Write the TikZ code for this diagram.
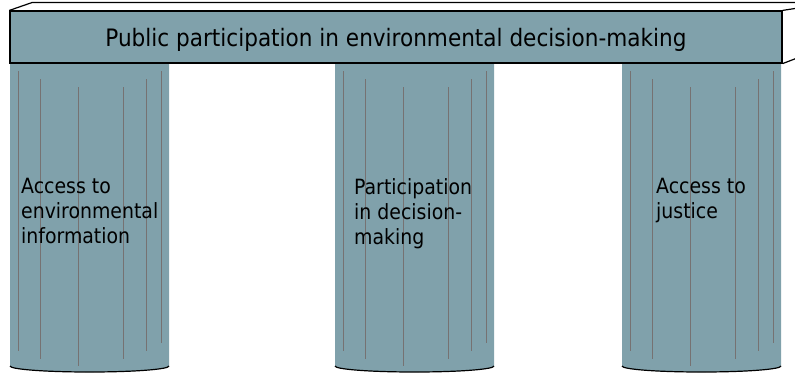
\documentclass[tikz,border=0pt]{standalone}
\usepackage{fontspec}
\setmainfont{DejaVu Sans Condensed}
\usetikzlibrary{positioning}
\definecolor{stone}{RGB}{128,161,171}
\definecolor{groove}{RGB}{118,114,114}

\begin{document}
\begin{tikzpicture}[x=1pt, y=-1pt,
    beam/.style={rectangle, draw, line width=1.2pt, fill=stone, minimum width=772pt, minimum height=52pt, inner sep=0pt, text depth=0pt, font=\fontsize{24}{28}\selectfont},
    pillartext/.style={anchor=north west, align=left, inner sep=0pt, font=\fontsize{21}{25}\selectfont}
]
    \clip (0,0) rectangle (795,373);

    % Three pillars with grooves and a rounded foot
    \foreach \px in {10,335,622} {
        \fill[stone] (\px,63) -- (\px,366) arc[start angle=180, end angle=360, x radius=79.5pt, y radius=6pt] -- (\px+159,63) -- cycle;
        \draw[line width=1.2pt] (\px,366) arc[start angle=180, end angle=360, x radius=79.5pt, y radius=6pt];
        \foreach \dx/\top/\bot in {8/71/351, 30/79/359, 68/87/366, 113/87/359, 136/79/351, 151/71/343}
            \draw[groove, line width=1pt] (\px+\dx,\top) -- (\px+\dx,\bot);
    }

    % Pillar labels
    \node[pillartext] (info) at (21,178) {Access to\\environmental\\information};
    \node[pillartext] (part) at (354,178) {Participation\\in decision-\\making};
    \node[pillartext] (just) at (656,178) {Access to\\justice};

    % Beam resting on the pillars
    \node[beam] (deck) at (396,37) {Public participation in environmental decision-making};
    \draw[line width=1.2pt] (deck.north west) -- ++(23,-8) -- ++(772,0);
    \draw[line width=1.2pt] (deck.north east) -- ++(13,-2);
    \draw[line width=1.2pt] (deck.south east) -- ++(13,-5);
\end{tikzpicture}
\end{document}
